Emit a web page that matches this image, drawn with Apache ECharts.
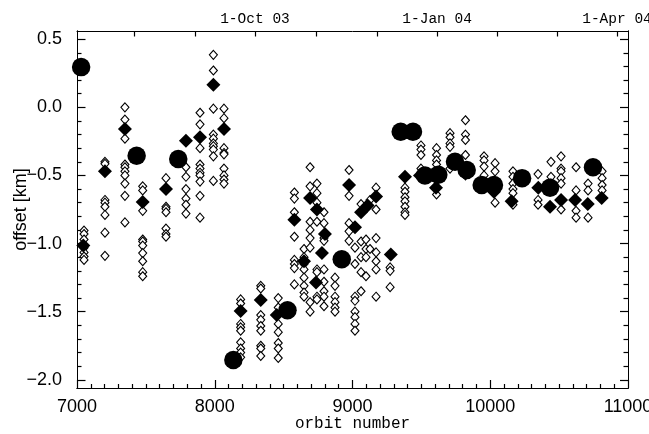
<!DOCTYPE html>
<html><head><meta charset="utf-8">
<script src="https://cdn.jsdelivr.net/npm/echarts@6/dist/echarts.min.js"></script>
<style>html,body{margin:0;padding:0;background:#fff}#c{width:649px;height:434px}</style>
</head><body><div id="c"></div>
<script>
// individual measurements: one column of open diamonds per orbit
const colOrbits = [7051,7203,7348,7477,7646,7791,7893,7990,8067,8188,8334,8461,8578,8648,8692,8742,8793,8873,8975,9018,9062,9098,9127,9171,9273,9381,9497,9610,9708,9820,9955,10035,10165,10347,10441,10514,10623,10710,10812];
const colOffsets = [
  [-0.905,-0.93,-0.97,-1.03,-1.065,-1.095,-1.12],
  [-0.40,-0.415,-0.68,-0.70,-0.73,-0.79,-0.92,-1.09],
  [0.00,-0.09,-0.23,-0.42,-0.44,-0.47,-0.50,-0.56,-0.65,-0.845],
  [-0.58,-0.61,-0.76,-0.97,-0.985,-1.015,-1.07,-1.13,-1.21,-1.24],
  [-0.52,-0.73,-0.745,-0.77,-0.89,-0.93,-0.95],
  [-0.44,-0.51,-0.60,-0.67,-0.715,-0.78],
  [-0.04,-0.125,-0.30,-0.42,-0.45,-0.48,-0.50,-0.545,-0.65,-0.81],
  [0.385,0.27,-0.01,-0.20,-0.23,-0.265,-0.285,-0.31,-0.36,-0.54],
  [-0.01,-0.08,-0.30,-0.335,-0.345,-0.45,-0.50,-0.53,-0.56],
  [-1.41,-1.44,-1.59,-1.615,-1.64,-1.725,-1.77,-1.80,-1.835],
  [-1.31,-1.33,-1.525,-1.56,-1.605,-1.64,-1.75,-1.77,-1.825],
  [-1.40,-1.47,-1.59,-1.65,-1.73,-1.77,-1.84],
  [-0.625,-0.67,-0.77,-0.95,-1.12,-1.15,-1.18,-1.30],
  [-1.04,-1.10,-1.15,-1.19,-1.25,-1.31,-1.36,-1.39],
  [-0.44,-0.58,-0.84,-0.90,-0.96,-1.03,-1.43,-1.50],
  [-0.56,-0.63,-0.70,-0.84,-1.19,-1.21,-1.39,-1.41],
  [-0.77,-0.85,-0.96,-0.98,-1.19,-1.28,-1.35,-1.39,-1.46],
  [-1.25,-1.31,-1.39,-1.43,-1.47,-1.50],
  [-0.46,-0.65,-0.85,-0.91,-0.98],
  [-1.03,-1.15,-1.39,-1.42,-1.50,-1.54,-1.59,-1.64],
  [-0.71,-0.985,-1.10,-1.21,-1.35],
  [-0.74,-0.97,-1.04,-1.10,-1.24],
  [-0.68,-1.04],
  [-0.59,-0.75,-0.96,-1.065,-1.13,-1.19,-1.39],
  [-1.175,-1.20,-1.32],
  [-0.59,-0.62,-0.66,-0.69,-0.73,-0.77,-0.79],
  [-0.28,-0.31,-0.35,-0.45],
  [-0.30,-0.35,-0.39,-0.42,-0.64],
  [-0.19,-0.22,-0.265,-0.29,-0.45],
  [-0.095,-0.20,-0.24,-0.35,-0.50],
  [-0.36,-0.39,-0.435,-0.50,-0.55],
  [-0.41,-0.47,-0.70],
  [-0.47,-0.51,-0.56,-0.60,-0.63,-0.715],
  [-0.49,-0.68,-0.715],
  [-0.40,-0.51,-0.56],
  [-0.36,-0.45,-0.47,-0.52,-0.56,-0.75],
  [-0.44,-0.61,-0.76,-0.81],
  [-0.56,-0.61,-0.81],
  [-0.47,-0.52,-0.57,-0.61]
];
// per-orbit means (filled diamonds)
const meanOrbits = [7046,7203,7348,7477,7646,7791,7893,7990,8067,8188,8334,8450,8578,8648,8692,8742,8735,8778,8800,8975,9018,9062,9110,9171,9278,9381,9490,9606,10027,10155,10349,10434,10514,10616,10708,10809];
const meanOffsets = [-1.015,-0.47,-0.16,-0.695,-0.60,-0.245,-0.22,0.165,-0.16,-1.495,-1.415,-1.525,-0.825,-1.13,-0.665,-0.75,-1.285,-1.07,-0.93,-0.57,-0.88,-0.77,-0.72,-0.655,-1.08,-0.51,-0.50,-0.59,-0.62,-0.69,-0.59,-0.73,-0.68,-0.68,-0.71,-0.665];
// weekly means (big filled circles)
const weekOrbits = [7030,7433,7735,8135,8528,8922,9350,9439,9526,9623,9744,9829,9938,10027,10231,10434,10746];
const weekOffsets = [0.295,-0.355,-0.38,-1.855,-1.49,-1.115,-0.18,-0.18,-0.50,-0.495,-0.40,-0.46,-0.57,-0.57,-0.52,-0.59,-0.44];

// axes
const xTicks = [7000,8000,9000,10000,11000];
const yTicks = [-2.0,-1.5,-1.0,-0.5,0.0,0.5];
const monthOrbits = [7414,7857,8292,8735,9178,9614,10049,10485,10920];
const dateLabelOrbits = [8292,9614,10920];
const dateLabels = ['1-Oct 03','1-Jan 04','1-Apr 04'];

const xMinor = []; for (let v = 7100; v < 11000; v += 100) if (v % 1000) xMinor.push(v);
const yMinor = []; for (let i = -20; i <= 5; i++) if (i % 5) yMinor.push(i / 10);

const openData = [];
colOrbits.forEach((o, i) => colOffsets[i].forEach(v => openData.push([o, v])));
const meanData = meanOrbits.map((o, i) => [o, meanOffsets[i]]);
const weekData = weekOrbits.map((o, i) => [o, weekOffsets[i]]);

const sans = 'Liberation Sans, Arial, Helvetica, sans-serif';
const mono = 'Liberation Mono, Courier New, monospace';
const XMIN = 7000, XMAX = 11000, YMIN = -2.06, YMAX = 0.56;

function fmtY(v) {
  const s = Math.abs(v).toFixed(1);
  return v < -1e-9 ? '\u2212' + s : s;
}
function fmtX(v) { return String(Math.round(v)); }
function nearestDate(v) {
  let best = 0;
  dateLabelOrbits.forEach((o, i) => { if (Math.abs(o - v) < Math.abs(dateLabelOrbits[best] - v)) best = i; });
  return dateLabels[best];
}
function lineOn() { return {show: true, onZero: false, lineStyle: {color: '#000000', width: 1}}; }
function tick(len, vals) {
  return {show: true, inside: true, length: len, customValues: vals, lineStyle: {color: '#000000', width: 1.2}};
}

const chart = echarts.init(document.getElementById('c'));
chart.setOption({
  animation: false,
  backgroundColor: '#ffffff',
  grid: {left: 77, right: 21, top: 31, bottom: 46, containLabel: false, outerBoundsMode: 'none'},
  xAxis: [
    {
      type: 'value', position: 'bottom', min: XMIN, max: XMAX,
      axisLine: lineOn(), axisTick: tick(8, xTicks),
      axisLabel: {customValues: xTicks, formatter: fmtX, margin: 10, fontSize: 18, fontFamily: sans, color: '#000'},
      splitLine: {show: false},
      name: 'orbit number', nameLocation: 'middle', nameGap: 28, nameMoveOverlap: false,
      nameTextStyle: {fontFamily: mono, fontSize: 16, color: '#000'}
    },
    {
      type: 'value', position: 'bottom', min: XMIN, max: XMAX,
      axisLine: lineOn(), axisTick: tick(4, xMinor),
      axisLabel: {show: false}, splitLine: {show: false}
    },
    {
      type: 'value', position: 'top', min: XMIN, max: XMAX,
      axisLine: lineOn(), axisTick: tick(5.5, monthOrbits),
      axisLabel: {customValues: dateLabelOrbits, formatter: nearestDate, margin: 4, fontSize: 14.5, fontFamily: mono, color: '#000'},
      splitLine: {show: false}
    }
  ],
  yAxis: [
    {
      type: 'value', position: 'left', min: YMIN, max: YMAX,
      axisLine: lineOn(), axisTick: tick(8.5, yTicks),
      axisLabel: {customValues: yTicks, formatter: fmtY, margin: 15, fontSize: 18, fontFamily: sans, color: '#000'},
      splitLine: {show: false},
      name: 'offset [km]', nameLocation: 'middle', nameGap: 47, nameRotate: 90, nameMoveOverlap: false,
      nameTextStyle: {fontFamily: sans, fontSize: 18, color: '#000'}
    },
    {
      type: 'value', position: 'left', min: YMIN, max: YMAX,
      axisLine: lineOn(), axisTick: tick(4.5, yMinor),
      axisLabel: {show: false}, splitLine: {show: false}
    },
    {
      type: 'value', position: 'right', min: YMIN, max: YMAX,
      axisLine: lineOn(), axisTick: tick(8, yTicks),
      axisLabel: {show: false}, splitLine: {show: false}
    },
    {
      type: 'value', position: 'right', min: YMIN, max: YMAX,
      axisLine: lineOn(), axisTick: tick(4.5, yMinor),
      axisLabel: {show: false}, splitLine: {show: false}
    }
  ],
  series: [
    {
      name: 'single', type: 'scatter', xAxisIndex: 1, yAxisIndex: 1,
      symbol: 'diamond', symbolSize: [8, 9],
      itemStyle: {color: '#fff', borderColor: '#000', borderWidth: 1.1, opacity: 1},
      data: openData
    },
    {
      name: 'orbit mean', type: 'scatter', xAxisIndex: 0, yAxisIndex: 3,
      symbol: 'diamond', symbolSize: 14,
      itemStyle: {color: '#000', opacity: 1},
      data: meanData
    },
    {
      name: 'weekly mean', type: 'scatter', xAxisIndex: 2, yAxisIndex: 0,
      symbol: 'circle', symbolSize: 18.5,
      itemStyle: {color: '#000', opacity: 1},
      data: weekData
    },
    {
      name: 'frame', type: 'scatter', xAxisIndex: 0, yAxisIndex: 2, data: []
    }
  ]
});
</script>
</body></html>
